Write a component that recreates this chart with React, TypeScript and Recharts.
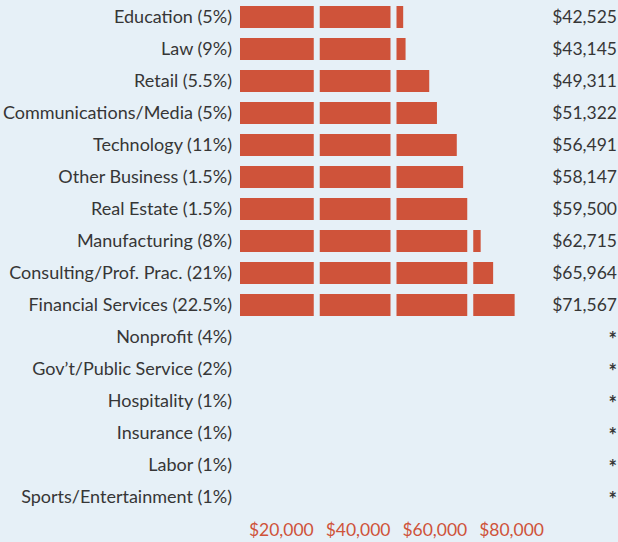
import React from 'react';
import { BarChart, Bar, XAxis, YAxis, ReferenceLine } from 'recharts';

const categories = [
  'Education (5%)',
  'Law (9%)',
  'Retail (5.5%)',
  'Communications/Media (5%)',
  'Technology (11%)',
  'Other Business (1.5%)',
  'Real Estate (1.5%)',
  'Manufacturing (8%)',
  'Consulting/Prof. Prac. (21%)',
  'Financial Services (22.5%)',
  'Nonprofit (4%)',
  'Gov’t/Public Service (2%)',
  'Hospitality (1%)',
  'Insurance (1%)',
  'Labor (1%)',
  'Sports/Entertainment (1%)',
];
const salaries: (number | null)[] = [
  42525, 43145, 49311, 51322, 56491, 58147, 59500, 62715, 65964, 71567,
  null, null, null, null, null, null,
];
const xTicks = [20000, 40000, 60000, 80000];
const gridValues = [20000, 40000, 60000];

const fmt = (v: number | null) => (v == null ? '*' : '$' + v.toLocaleString('en-US'));

const data = categories.map((name, i) => ({
  name,
  value: salaries[i],
  label: fmt(salaries[i]),
}));

const BG = '#e6f0f7';
const BAR = '#cf533a';
const TEXT = '#363636';
const FONT = 'Lato, "Noto Sans", sans-serif';

const LeftTick = (props: any) => {
  const { x, y, payload } = props;
  return (
    <text x={x} y={y} dy="0.32em" textAnchor="end" fill={TEXT} fontSize={18} fontFamily={FONT}>
      {payload.value}
    </text>
  );
};

const RightTick = (props: any) => {
  const { x, y, payload } = props;
  const star = payload.value === '*';
  return (
    <text
      x={x + 70}
      y={y}
      dy={star ? '0.5em' : '0.32em'}
      textAnchor="end"
      fill={TEXT}
      fontSize={star ? 20 : 17.5}
      fontWeight={star ? 'bold' : 'normal'}
      fontFamily={FONT}
    >
      {payload.value}
    </text>
  );
};

const XTick = (props: any) => {
  const { x, y, payload } = props;
  return (
    <text x={x - 3} y={y + 17} dy="0.35em" textAnchor="end" fill={BAR} fontSize={17.5} fontFamily={FONT}>
      {fmt(payload.value)}
    </text>
  );
};

export default function App() {
  return (
    <div style={{ position: 'fixed', left: 0, top: 0, width: 618, height: 542, background: BG }}>
      <BarChart
        width={618}
        height={542}
        data={data}
        layout="vertical"
        margin={{ top: 1, right: 0, bottom: 0, left: 0 }}
        barSize={22}
      >
        <XAxis
          type="number"
          domain={[0, 80000]}
          ticks={xTicks}
          axisLine={false}
          tickLine={false}
          tickSize={0}
          tickMargin={0}
          height={29}
          tick={<XTick />}
          interval={0}
        />
        <YAxis
          type="category"
          dataKey="name"
          width={240}
          axisLine={false}
          tickLine={false}
          tickSize={0}
          tickMargin={8}
          tick={<LeftTick />}
          interval={0}
        />
        <YAxis
          yAxisId="r"
          orientation="right"
          type="category"
          dataKey="label"
          width={71}
          axisLine={false}
          tickLine={false}
          tickSize={0}
          tickMargin={0}
          tick={<RightTick />}
          interval={0}
        />
        <Bar dataKey="value" fill={BAR} isAnimationActive={false} />
        {gridValues.map((v) => (
          <ReferenceLine key={v} x={v} stroke={BG} strokeWidth={6} />
        ))}
      </BarChart>
    </div>
  );
}
